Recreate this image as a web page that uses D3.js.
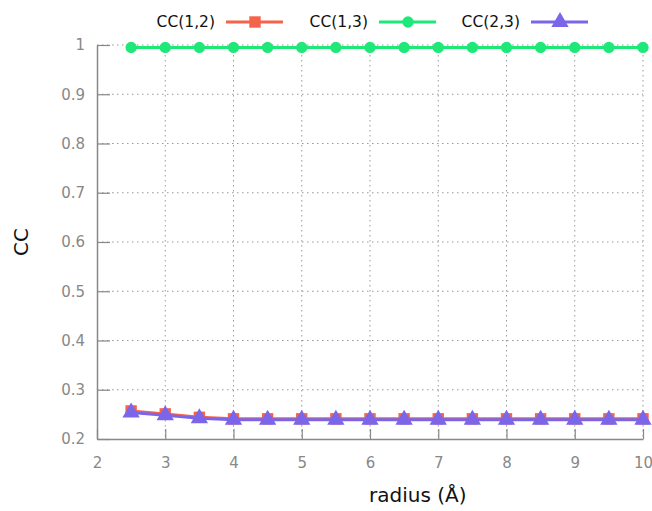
<!DOCTYPE html>
<html>
<head>
<meta charset="utf-8">
<script src="https://cdn.jsdelivr.net/npm/d3@7"></script>
<style>
  body { margin: 0; background: #fff; }
  text { font-family: "DejaVu Sans", Verdana, sans-serif; }
</style>
</head>
<body>
<div id="chart"></div>
<script>
// radius values (Å)
let radius = [2.5, 3, 3.5, 4, 4.5, 5, 5.5, 6, 6.5, 7, 7.5, 8, 8.5, 9, 9.5, 10];

// series values
let cc12 = [0.257, 0.251, 0.244, 0.241, 0.241, 0.241, 0.241, 0.241, 0.241, 0.241, 0.241, 0.241, 0.241, 0.241, 0.241, 0.241];
let cc13 = [0.995, 0.995, 0.995, 0.995, 0.995, 0.995, 0.995, 0.995, 0.995, 0.995, 0.995, 0.995, 0.995, 0.995, 0.995, 0.995];
let cc23 = [0.254, 0.248, 0.242, 0.239, 0.239, 0.239, 0.239, 0.239, 0.239, 0.239, 0.239, 0.239, 0.239, 0.239, 0.239, 0.239];

let xTicks = [2, 3, 4, 5, 6, 7, 8, 9, 10];
let yTicks = [0.2, 0.3, 0.4, 0.5, 0.6, 0.7, 0.8, 0.9, 1];

let seriesNames = ['CC(1,2)', 'CC(1,3)', 'CC(2,3)'];
let seriesColors = ['#f5634a', '#1ee878', '#7b66ea'];
let seriesMarkers = [d3.symbolSquare, d3.symbolCircle, d3.symbolTriangle];

let margin = { top: 45, right: 9, bottom: 72, left: 97 };
let width = 652 - margin.left - margin.right;
let height = 511 - margin.top - margin.bottom;

let svg = d3.select('#chart')
    .append('svg')
    .attr('width', 652)
    .attr('height', 511)
    .append('g')
    .attr('transform', `translate(${margin.left}, ${margin.top})`);

let x = d3.scaleLinear().domain([2, 10]).range([0, width]);
let y = d3.scaleLinear().domain([0.2, 1]).range([height, 0]);

// dotted grid
svg.append('g')
    .selectAll('line')
    .data(xTicks.slice(1))
    .enter()
    .append('line')
    .attr('x1', d => x(d)).attr('x2', d => x(d))
    .attr('y1', 0).attr('y2', height)
    .style('stroke', '#999')
    .style('stroke-width', 1)
    .style('stroke-dasharray', '1.5,3.5');

svg.append('g')
    .selectAll('line')
    .data(yTicks.slice(1))
    .enter()
    .append('line')
    .attr('x1', 0).attr('x2', width)
    .attr('y1', d => y(d)).attr('y2', d => y(d))
    .style('stroke', '#999')
    .style('stroke-width', 1)
    .style('stroke-dasharray', '1.5,3.5');

// axes: gnuplot style, ticks point inward
let xAxis = svg.append('g')
    .attr('transform', `translate(0,${height})`)
    .call(d3.axisBottom(x).tickValues(xTicks).tickFormat(d3.format('d')).tickSizeInner(-10).tickSizeOuter(0).tickPadding(18));

let yAxis = svg.append('g')
    .call(d3.axisLeft(y).tickValues(yTicks).tickFormat(d => d === 1 ? '1' : d3.format('.1f')(d)).tickSizeInner(-13).tickSizeOuter(0).tickPadding(12));

[xAxis, yAxis].forEach(a => {
    a.select('.domain').style('stroke', '#888').style('stroke-width', 1.5);
    a.selectAll('.tick line').style('stroke', '#888').style('stroke-width', 1.2);
    a.selectAll('.tick text')
        .style('fill', '#888')
        .style('font-size', '15px')
        .style('font-family', '"DejaVu Sans", Verdana, sans-serif');
});

// axis titles
svg.append('text')
    .text('CC')
    .attr('text-anchor', 'middle')
    .attr('transform', 'rotate(-90)')
    .attr('x', -(y(0.6)))
    .attr('y', -69)
    .style('font-size', '20px')
    .style('fill', '#111');

svg.append('text')
    .text('radius (Å)')
    .attr('text-anchor', 'middle')
    .attr('x', x(6.7))
    .attr('y', height + 63)
    .style('font-size', '20px')
    .style('fill', '#111');

// series
let allSeries = [cc12, cc13, cc23];
allSeries.forEach((vals, i) => {
    let pts = radius.map((r, j) => ({ r: r, v: vals[j] }));
    let line = d3.line().x(d => x(d.r)).y(d => y(d.v));

    svg.append('path')
        .datum(pts)
        .attr('d', line)
        .style('fill', 'none')
        .style('stroke', seriesColors[i])
        .style('stroke-width', 3);

    svg.selectAll('.pt' + i)
        .data(pts)
        .enter()
        .append('path')
        .attr('class', 'pt' + i)
        .attr('d', d3.symbol().type(seriesMarkers[i]).size(i === 1 ? 100 : 130))
        .attr('transform', d => `translate(${x(d.r)},${y(d.v)})`)
        .style('fill', seriesColors[i]);
});

// legend at top
let legendX = [215, 368, 520];
let legend = d3.select('svg').append('g');
seriesNames.forEach((name, i) => {
    let g = legend.append('g').attr('transform', `translate(${legendX[i]}, 22)`);
    g.append('text')
        .text(name)
        .attr('text-anchor', 'end')
        .attr('y', 5)
        .style('font-size', '15.5px')
        .style('fill', '#111');
    g.append('line')
        .attr('x1', 11).attr('x2', 68)
        .attr('y1', 0).attr('y2', 0)
        .style('stroke', seriesColors[i])
        .style('stroke-width', 3);
    g.append('path')
        .attr('d', d3.symbol().type(seriesMarkers[i]).size(i === 1 ? 100 : 130))
        .attr('transform', 'translate(40,0)')
        .style('fill', seriesColors[i]);
});
</script>
</body>
</html>
